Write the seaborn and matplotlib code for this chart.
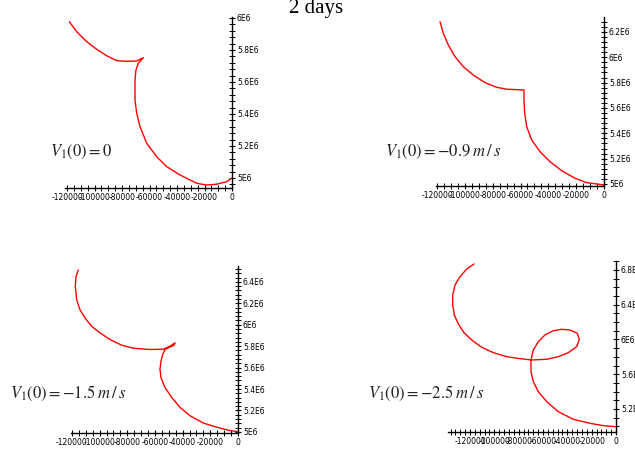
import numpy as np
import pandas as pd
import seaborn as sns
import matplotlib.pyplot as plt
from matplotlib.ticker import MultipleLocator, FuncFormatter

sns.set_theme(style="white")
plt.rcParams['font.family'] = ['DejaVu Sans']
plt.rcParams['mathtext.fontset'] = 'stix'

# Trajectories (horizontal offset, radial distance) for each initial velocity
x_v0 = [-118330, -112950, -105680, -98400, -91130, -83860, -76590, -69310, -64510,
        -68150, -69820, -70550, -70550, -69310, -66910, -62040, -54770, -47490,
        -37820, -25670, -18400, -11130, -3850, 0]
y_v0 = [5.977e6, 5.914e6, 5.852e6, 5.804e6, 5.764e6, 5.733e6, 5.729e6, 5.731e6, 5.752e6,
        5.717e6, 5.675e6, 5.613e6, 5.488e6, 5.404e6, 5.321e6, 5.217e6, 5.133e6, 5.071e6,
        5.019e6, 4.967e6, 4.956e6, 4.961e6, 4.977e6, 5.0e6]

x_v09 = [-117850, -115480, -111890, -107070, -101110, -93920, -85510, -77110, -69920,
         -57490, -57490, -56990, -55550, -51960, -45990, -38800, -30400, -20840,
         -12430, -5250, 0]
y_v09 = [6.281e6, 6.189e6, 6.097e6, 6.005e6, 5.926e6, 5.860e6, 5.800e6, 5.763e6, 5.748e6,
         5.742e6, 5.663e6, 5.558e6, 5.452e6, 5.347e6, 5.255e6, 5.176e6, 5.105e6, 5.045e6,
         5.010e6, 5.0e6, 4.992e6]

x_v15 = [-115450, -117110, -117620, -116610, -114220, -110600, -105760, -99760, -92530,
         -84070, -75690, -63620, -54000, -49160, -45540, -46270, -50390, -52770,
         -54440, -55660, -56390, -55660, -52770, -47930, -41930, -34700, -25080,
         -15400, -5780, 0]
y_v15 = [6.511e6, 6.449e6, 6.356e6, 6.233e6, 6.140e6, 6.063e6, 5.985e6, 5.924e6, 5.862e6,
         5.809e6, 5.781e6, 5.769e6, 5.772e6, 5.800e6, 5.831e6, 5.809e6, 5.785e6, 5.769e6,
         5.723e6, 5.661e6, 5.584e6, 5.507e6, 5.414e6, 5.322e6, 5.229e6, 5.151e6, 5.083e6,
         5.044e6, 5.012e6, 5.003e6]

x_v25 = [-116720, -122720, -128230, -132340, -134230, -134230, -132920, -129630, -124940,
         -118610, -110400, -100860, -89840, -78910, -69300, -56960, -47430, -39210,
         -32300, -30170, -31810, -37810, -44630, -51540, -58360, -63870, -67980,
         -69870, -69870, -67980, -63870, -56960, -47430, -35100, -21370, -10440, 0]
y_v25 = [6.869e6, 6.811e6, 6.722e6, 6.627e6, 6.512e6, 6.397e6, 6.282e6, 6.178e6, 6.078e6,
         5.994e6, 5.910e6, 5.848e6, 5.802e6, 5.779e6, 5.764e6, 5.772e6, 5.802e6, 5.848e6,
         5.917e6, 6.002e6, 6.071e6, 6.109e6, 6.117e6, 6.101e6, 6.052e6, 5.974e6, 5.879e6,
         5.764e6, 5.629e6, 5.514e6, 5.399e6, 5.284e6, 5.169e6, 5.081e6, 5.035e6, 5.008e6,
         4.996e6]

labels = [r"$V_1(0) = 0$",
          r"$V_1(0) = -0.9\;m\,/\,s$",
          r"$V_1(0) = -1.5\;m\,/\,s$",
          r"$V_1(0) = -2.5\;m\,/\,s$"]
title = "2 days"

W, H = 635, 455
fig = plt.figure(figsize=(W / 100, H / 100), dpi=100)


def px_axes(left, right, top, bottom):
    return fig.add_axes([left / W, 1 - bottom / H, (right - left) / W, (bottom - top) / H])


panels = [
    dict(box=(65, 232, 17, 188), x=x_v0, y=y_v0, xlim=(-121455, 0), ylim=(4.9375e6, 6.006e6),
         ymaj=0.2e6, ymin=0.04e6, xmin=5000, lab=labels[0], lpos=(50, 152)),
    dict(box=(436, 604, 17, 186), x=x_v09, y=y_v09, xlim=(-120725, 0), ylim=(4.984e6, 6.318e6),
         ymaj=0.2e6, ymin=0.04e6, xmin=5000, lab=labels[1], lpos=(385, 152)),
    dict(box=(71, 238, 266, 433), x=x_v15, y=y_v15, xlim=(-120720, 0), ylim=(4.99e6, 6.548e6),
         ymaj=0.2e6, ymin=0.04e6, xmin=5000, lab=labels[2], lpos=(10, 393)),
    dict(box=(448, 616, 261, 432), x=x_v25, y=y_v25, xlim=(-138100, 0), ylim=(4.935e6, 6.903e6),
         ymaj=0.4e6, ymin=0.1e6, xmin=4000, lab=labels[3], lpos=(368, 393)),
]

yfmt = FuncFormatter(lambda v, p: f"{v / 1e6:g}E6")
xfmt = FuncFormatter(lambda v, p: f"{int(round(v))}")

for p in panels:
    ax = px_axes(*p["box"])
    df = pd.DataFrame({"x": p["x"], "y": p["y"]})
    sns.lineplot(data=df, x="x", y="y", sort=False, estimator=None,
                 color="#ff0000", linewidth=1.0, ax=ax,
                 solid_joinstyle="round", solid_capstyle="round")
    ax.set_xlim(*p["xlim"])
    ax.set_ylim(*p["ylim"])
    ax.set_xlabel("")
    ax.set_ylabel("")
    ax.patch.set_alpha(0)
    for s in ("top", "left"):
        ax.spines[s].set_visible(False)
    for s in ("right", "bottom"):
        ax.spines[s].set_color("black")
        ax.spines[s].set_linewidth(1.0)
    ax.yaxis.tick_right()
    ax.xaxis.tick_bottom()
    ax.xaxis.set_major_locator(MultipleLocator(20000))
    ax.xaxis.set_minor_locator(MultipleLocator(p["xmin"]))
    ax.yaxis.set_major_locator(MultipleLocator(p["ymaj"]))
    ax.yaxis.set_minor_locator(MultipleLocator(p["ymin"]))
    ax.xaxis.set_major_formatter(xfmt)
    ax.yaxis.set_major_formatter(yfmt)
    ax.tick_params(axis="both", which="major", direction="inout", length=5, width=0.8,
                   labelsize=5.5, pad=1, colors="black")
    ax.tick_params(axis="both", which="minor", direction="inout", length=4, width=0.7,
                   colors="black")
    ax.tick_params(axis="y", which="both", left=False, right=True)
    ax.tick_params(axis="x", which="both", top=False, bottom=True)
    lx, ly = p["lpos"]
    fig.text(lx / W, 1 - ly / H, p["lab"], fontsize=12, color="#222222",
             ha="left", va="center")

fig.text(316 / W, 1 - 9 / H, title, fontsize=15, family="Liberation Serif",
         ha="center", va="center", color="black")

fig.savefig("out.png", dpi=100, facecolor="white")
